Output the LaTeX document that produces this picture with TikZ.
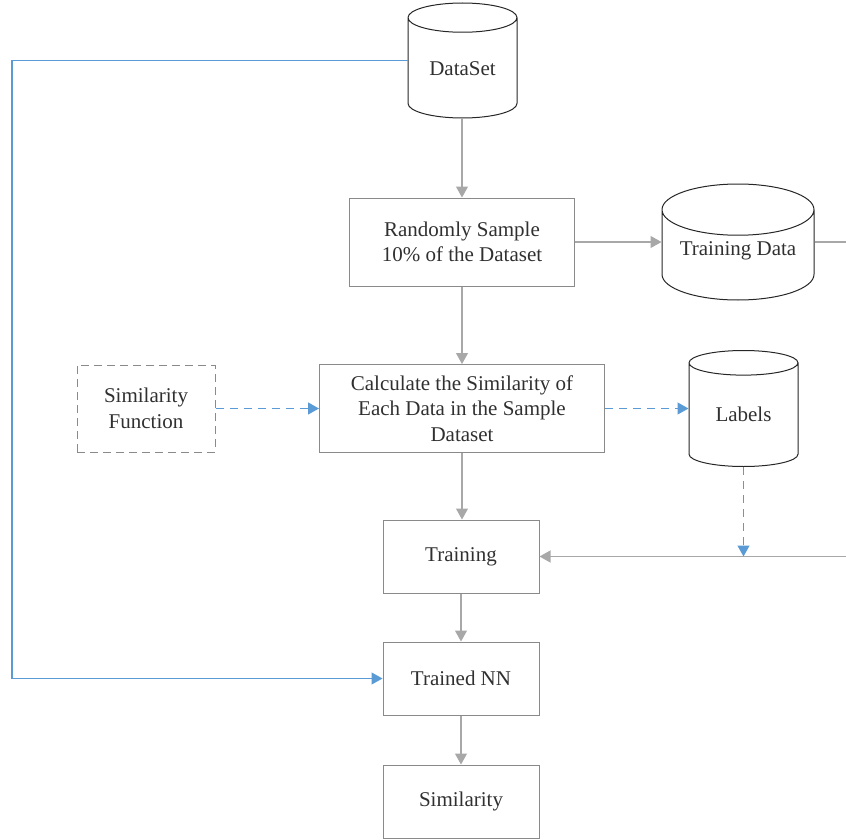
\documentclass[tikz,border=0pt]{standalone}
\usepackage{fontspec}
\setmainfont{Liberation Serif}
\usetikzlibrary{arrows.meta,shapes.geometric}

\definecolor{linegray}{HTML}{A8A8A8}
\definecolor{boxgray}{HTML}{8A8A8A}
\definecolor{lineblue}{HTML}{5B9BD5}
\definecolor{textgray}{HTML}{303030}

\tikzset{
	box/.style={draw=boxgray, line width=1pt, text=textgray, align=center, inner sep=0pt,
		font=\fontsize{21}{25.5}\selectfont},
	dbase/.style={cylinder, shape border rotate=90, aspect=0.44, draw=black!85, line width=1pt,
		text=textgray, inner sep=0pt, anchor=shape center, text height=14pt, text depth=0pt,
		font=\fontsize{21}{25.5}\selectfont},
	flow/.style={draw=linegray, line width=1.2pt, -{Triangle[length=11pt,width=12pt]}},
	blueflow/.style={draw=lineblue, line width=1.2pt, -{Triangle[length=11pt,width=12pt]}},
	bluedash/.style={blueflow, dash pattern=on 8pt off 6pt}
}

\begin{document}
\begin{tikzpicture}[x=1pt, y=-1pt]
	\useasboundingbox (0, 0) rectangle (846, 840);

	% stores
	\node[dbase, minimum width=109, minimum height=115] (ds) at (462.5, 60.5) {DataSet};
	\node[dbase, minimum width=152, minimum height=116, text depth=14pt] (td) at (738, 242) {Training Data};
	\node[dbase, minimum width=109, minimum height=116] (lab) at (743.5, 408.5) {Labels};

	% steps
	\node[box, minimum width=225, minimum height=88] (smp) at (462, 242) {Randomly Sample\\10\% of the Dataset};
	\node[box, minimum width=285, minimum height=88] (calc) at (462, 408.5) {Calculate the Similarity of\\Each Data in the Sample\\Dataset};
	\node[box, dash pattern=on 8pt off 5pt, minimum width=138, minimum height=87] (fn) at (146, 408.5) {Similarity\\Function};
	\node[box, minimum width=156, minimum height=73] (tr) at (461, 556.5) {Training};
	\node[box, minimum width=156, minimum height=73] (nn) at (461, 678.5) {Trained NN};
	\node[box, minimum width=156, minimum height=73] (sim) at (461, 801.5) {Similarity};

	\coordinate (lft) at (12, 0);
	\coordinate (rt1) at (846, 242);
	\coordinate (rt2) at (846, 556.5);

	% main chain
	\draw[flow] (ds.south -| smp.north) -- (smp.north);
	\draw[flow] (smp.east) -- (smp.east -| td.west);
	\draw[draw=linegray, line width=1.2pt] (td.east |- rt1) -- (rt1);
	\draw[flow] (smp.south) -- (calc.north);
	\draw[flow] (calc.south) -- (calc.south |- tr.north);
	\draw[flow] (rt2) -- (tr.east);
	\draw[flow] (tr.south) -- (nn.north);
	\draw[flow] (nn.south) -- (sim.north);

	% blue links
	\draw[blueflow] (ds.shape center -| ds.west) -- (ds.shape center -| lft) |- (nn.west);
	\draw[bluedash] (fn.east) -- (calc.west);
	\draw[bluedash] (calc.east) -- (calc.east -| lab.west);
	\draw[bluedash] (lab.south) -- (lab.south |- tr.east);
\end{tikzpicture}
\end{document}
